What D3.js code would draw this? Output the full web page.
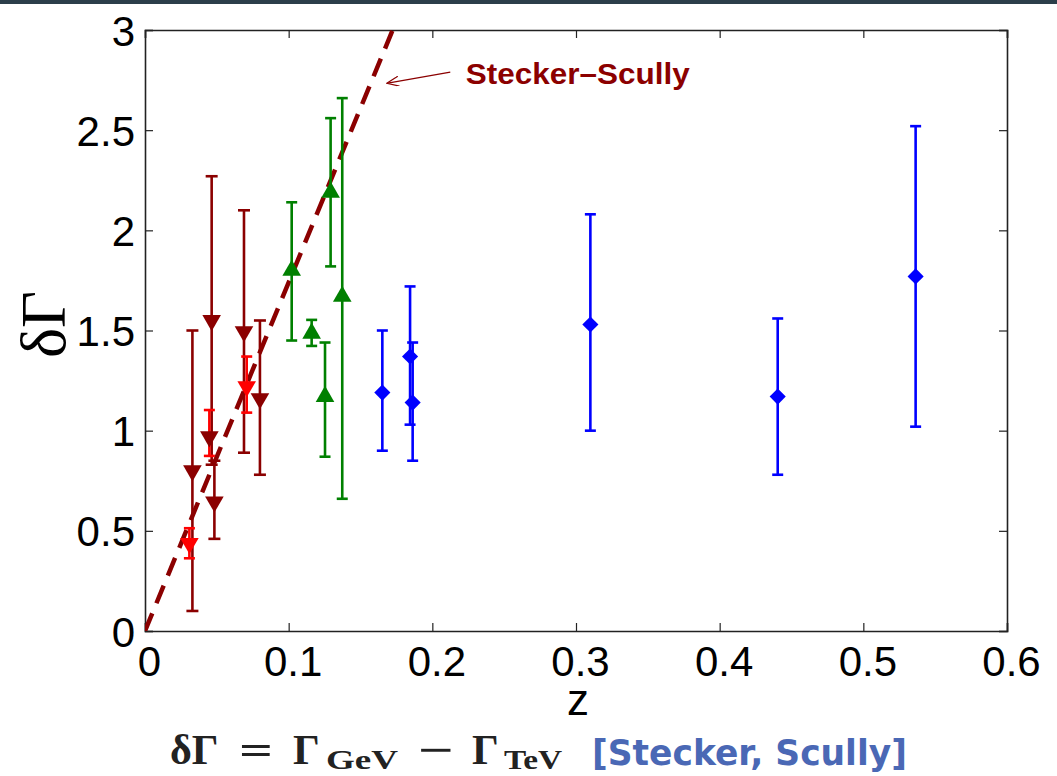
<!DOCTYPE html>
<html>
<head>
<meta charset="utf-8">
<script src="https://cdn.jsdelivr.net/npm/d3@7"></script>
<style>
  body { margin: 0; background: #fff; }
  svg { display: block; }
</style>
</head>
<body>
<svg id="chart"></svg>
<script>
// values: z, delta Gamma, lower and upper end of the error bar
const darkRed = [
  {z: 0.033, g: 0.80, lo: 0.10, hi: 1.50},
  {z: 0.0464, g: 1.55, lo: 0.83, hi: 2.27},
  {z: 0.0483, g: 0.645, lo: 0.46, hi: 0.85},
  {z: 0.0689, g: 1.495, lo: 0.89, hi: 2.10},
  {z: 0.080, g: 1.16, lo: 0.78, hi: 1.55}
];
const brightRed = [
  {z: 0.0309, g: 0.438, lo: 0.363, hi: 0.513},
  {z: 0.0448, g: 0.97, lo: 0.874, hi: 1.103},
  {z: 0.0708, g: 1.22, lo: 1.09, hi: 1.37}
];
// dark marker sitting on top of the bright red bar at z ~ 0.045
const darkRedTop = [{z: 0.0448, g: 0.97, lo: 0.97, hi: 0.97}];
const green = [
  {z: 0.1021, g: 1.80, lo: 1.45, hi: 2.14},
  {z: 0.116, g: 1.486, lo: 1.423, hi: 1.553},
  {z: 0.1253, g: 1.17, lo: 0.87, hi: 1.44},
  {z: 0.1292, g: 2.19, lo: 1.82, hi: 2.56},
  {z: 0.1373, g: 1.67, lo: 0.66, hi: 2.66}
];
const blue = [
  {z: 0.1652, g: 1.19, lo: 0.90, hi: 1.50},
  {z: 0.1845, g: 1.37, lo: 1.03, hi: 1.72},
  {z: 0.1863, g: 1.14, lo: 0.85, hi: 1.44},
  {z: 0.310, g: 1.53, lo: 1.00, hi: 2.08},
  {z: 0.4404, g: 1.17, lo: 0.78, hi: 1.56},
  {z: 0.5364, g: 1.77, lo: 1.02, hi: 2.52}
];
const steckerScullyZ = [0, 0.1724];
const steckerScullyG = [0, 3];
const xTicks = [0, 0.1, 0.2, 0.3, 0.4, 0.5, 0.6];
const xTickLabels = ["0", "0.1", "0.2", "0.3", "0.4", "0.5", "0.6"];
const yTicks = [0, 0.5, 1, 1.5, 2, 2.5, 3];
const yTickLabels = ["0", "0.5", "1", "1.5", "2", "2.5", "3"];

const W = 1057, H = 776;
const margin = {top: 30, right: 50, bottom: 145, left: 145},
      width = W - margin.left - margin.right,
      height = H - margin.top - margin.bottom;

const root = d3.select("#chart").attr("width", W).attr("height", H);

// thin dark strip along the top edge
root.append("rect").attr("x", 0).attr("y", 0).attr("width", W).attr("height", 4)
    .attr("fill", "#2c3e4a");

const svg = root.append("g")
    .attr("transform", `translate(${margin.left},${margin.top})`);

const x = d3.scaleLinear().domain([0, 0.6]).range([0, width]);
const y = d3.scaleLinear().domain([0, 3]).range([height, 0]);

svg.append("defs").append("clipPath").attr("id", "plot-clip")
  .append("rect").attr("width", width).attr("height", height);

// axes with inward ticks on all four sides (MATLAB box)
const tickFont = "'Liberation Sans', Arial, sans-serif";
const bottomAxis = svg.append("g")
    .attr("transform", `translate(0,${height})`)
    .call(d3.axisBottom(x).tickValues(xTicks).tickSize(-8).tickPadding(15)
        .tickFormat((d, i) => xTickLabels[i]));
const topAxis = svg.append("g")
    .call(d3.axisTop(x).tickValues(xTicks).tickSize(-8).tickFormat(""));
const leftAxis = svg.append("g")
    .call(d3.axisLeft(y).tickValues(yTicks).tickSize(-8).tickPadding(10)
        .tickFormat((d, i) => yTickLabels[i]));
const rightAxis = svg.append("g")
    .attr("transform", `translate(${width},0)`)
    .call(d3.axisRight(y).tickValues(yTicks).tickSize(-8).tickFormat(""));

[bottomAxis, topAxis, leftAxis, rightAxis].forEach(a => {
  a.select(".domain").attr("stroke", "#222").attr("stroke-width", 1.6);
  a.selectAll(".tick line").attr("stroke", "#222").attr("stroke-width", 1.2);
  a.selectAll("text").attr("fill", "#000")
      .style("font-family", tickFont).style("font-size", "42px");
});
bottomAxis.selectAll("text").attr("dy", "0.72em").attr("dx", 4);
leftAxis.selectAll("text").attr("dy", "0.36em");

const plot = svg.append("g").attr("clip-path", "url(#plot-clip)");

function drawBars(data, color, cap) {
  const g = plot.append("g").attr("stroke", color).attr("stroke-width", 2.6);
  g.selectAll("line.bar").data(data.filter(d => d.hi > d.lo)).enter().append("line")
      .attr("x1", d => x(d.z)).attr("x2", d => x(d.z))
      .attr("y1", d => y(d.lo)).attr("y2", d => y(d.hi));
  ["lo", "hi"].forEach(k => {
    g.selectAll("line.cap-" + k).data(data.filter(d => d.hi > d.lo)).enter().append("line")
        .attr("x1", d => x(d.z) - cap / 2).attr("x2", d => x(d.z) + cap / 2)
        .attr("y1", d => y(d[k])).attr("y2", d => y(d[k]));
  });
}

function drawMarkers(data, color, type, size, angle) {
  plot.append("g").selectAll("path").data(data).enter().append("path")
      .attr("d", d3.symbol().type(type).size(size))
      .attr("transform", d => `translate(${x(d.z)},${y(d.g)}) rotate(${angle})`)
      .attr("fill", color);
}

// Stecker-Scully prediction
plot.append("path")
    .datum(d3.zip(steckerScullyZ, steckerScullyG))
    .attr("d", d3.line().x(d => x(d[0])).y(d => y(d[1])))
    .attr("fill", "none")
    .attr("stroke", "#8b0000")
    .attr("stroke-width", 4.5)
    .attr("stroke-dasharray", "19,11");

drawBars(darkRed, "#8b0000", 12);
drawBars(brightRed, "#ff0000", 11);
drawBars(green, "#008000", 11);
drawBars(blue, "#0000ff", 11);

drawMarkers(darkRed, "#8b0000", d3.symbolTriangle, 150, 180);
drawMarkers(brightRed.filter(d => d.g !== 0.97), "#ff0000", d3.symbolTriangle, 150, 180);
drawMarkers(darkRedTop, "#8b0000", d3.symbolTriangle, 150, 180);
drawMarkers(green, "#008000", d3.symbolTriangle, 150, 0);
drawMarkers(blue, "#0000ff", d3.symbolSquare, 130, 45);

// annotation arrow and label
const arrowFrom = [0.2125, 2.79], arrowTo = [0.169, 2.735];
svg.append("defs").append("marker")
    .attr("id", "arrowhead").attr("viewBox", "0 0 12 10")
    .attr("refX", 11).attr("refY", 5)
    .attr("markerWidth", 14).attr("markerHeight", 10)
    .attr("markerUnits", "userSpaceOnUse")
    .attr("orient", "auto")
  .append("path").attr("d", "M0,0 L12,5 L0,10")
    .attr("fill", "none").attr("stroke", "#8b0000").attr("stroke-width", 1.2);
svg.append("line")
    .attr("x1", x(arrowFrom[0])).attr("y1", y(arrowFrom[1]))
    .attr("x2", x(arrowTo[0])).attr("y2", y(arrowTo[1]))
    .attr("stroke", "#8b0000").attr("stroke-width", 1.3)
    .attr("marker-end", "url(#arrowhead)");
svg.append("text")
    .attr("x", x(0.2233)).attr("y", y(2.73))
    .style("font-family", tickFont).style("font-weight", "bold")
    .style("font-size", "30px").attr("fill", "#8b0000")
    .attr("textLength", 224).attr("lengthAdjust", "spacingAndGlyphs")
    .text("Stecker\u2013Scully");

// axis titles
svg.append("text")
    .attr("x", x(0.3) + 2).attr("y", height + 84)
    .style("text-anchor", "middle")
    .style("font-family", tickFont).style("font-size", "44px")
    .text("z");

svg.append("text")
    .attr("transform", "rotate(-90)")
    .attr("x", -y(1.53)).attr("y", -80)
    .style("text-anchor", "middle")
    .style("font-family", "'Liberation Serif', 'DejaVu Serif', serif")
    .style("font-size", "64px")
    .text("\u03b4\u0393");

// caption under the chart: delta Gamma = Gamma_GeV - Gamma_TeV
const captionParts = [
  {t: "\u03b4\u0393", x: 170, size: 42, dy: 0},
  {t: "=", x: 239, size: 42, dy: 0, len: 34},
  {t: "\u0393", x: 293, size: 42, dy: 0},
  {t: "GeV", x: 326, size: 28, dy: 5, len: 72},
  {t: "\u2212", x: 418, size: 42, dy: 0, len: 36},
  {t: "\u0393", x: 472, size: 42, dy: 0},
  {t: "TeV", x: 504, size: 28, dy: 5, len: 58}
];
const captionG = root.append("g")
    .style("font-family", "'Liberation Serif', serif")
    .style("font-weight", "bold").attr("fill", "#222");
captionParts.forEach(p => {
  const t = captionG.append("text")
      .attr("x", p.x).attr("y", 764 + p.dy)
      .style("font-size", p.size + "px").text(p.t);
  if (p.len) t.attr("textLength", p.len).attr("lengthAdjust", "spacingAndGlyphs");
});
root.append("text")
    .attr("x", 592).attr("y", 765)
    .style("font-family", "'DejaVu Sans', sans-serif")
    .style("font-weight", "bold").style("font-size", "35px")
    .attr("fill", "#4a68b5")
    .attr("textLength", 315).attr("lengthAdjust", "spacingAndGlyphs")
    .text("[Stecker, Scully]");
</script>
</body>
</html>
